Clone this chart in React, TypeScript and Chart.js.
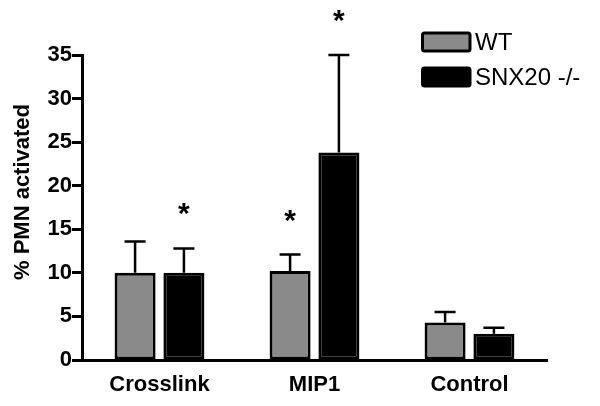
import React, { useEffect, useRef } from "react";
import { Chart, registerables } from "chart.js";

Chart.register(...registerables);

const categories = ["Crosslink", "MIP1", "Control"];
const seriesNames = ["WT", "SNX20 -/-"];
const wtMeans = [10.0, 10.2, 4.3];
const wtErrors = [3.6, 1.9, 1.2];
const snxMeans = [10.0, 23.8, 3.0];
const snxErrors = [2.8, 11.2, 0.7];
const wtSignificant = [false, true, false];
const snxSignificant = [true, true, false];
const yTicks = [0, 5, 10, 15, 20, 25, 30, 35];
const yTitle = "% PMN activated";

const FONT = "'Liberation Sans', Arial, Helvetica, sans-serif";

const errorBarsPlugin = {
  id: "errorBarsStars",
  afterDatasetsDraw(chart: any) {
    const ctx = chart.ctx;
    const yScale = chart.scales.y;
    const errs = [wtErrors, snxErrors];
    const sig = [wtSignificant, snxSignificant];
    ctx.save();
    chart.data.datasets.forEach((ds: any, di: number) => {
      const meta = chart.getDatasetMeta(di);
      meta.data.forEach((bar: any, i: number) => {
        const v = ds.data[i];
        const top = yScale.getPixelForValue(v + errs[di][i]);
        const base = yScale.getPixelForValue(v);
        ctx.strokeStyle = "#000";
        ctx.lineWidth = 2.5;
        ctx.beginPath();
        ctx.moveTo(bar.x, base);
        ctx.lineTo(bar.x, top);
        ctx.moveTo(bar.x - 10.5, top);
        ctx.lineTo(bar.x + 10.5, top);
        ctx.stroke();
        if (sig[di][i]) {
          ctx.fillStyle = "#000";
          ctx.font = `bold 30px ${FONT}`;
          ctx.textAlign = "center";
          ctx.textBaseline = "alphabetic";
          ctx.fillText("*", bar.x, top - 37 + 12);
        }
      });
    });
    ctx.restore();
  },
  afterDraw(chart: any) {
    const ctx = chart.ctx;
    ctx.save();
    ctx.translate(23, 192);
    ctx.rotate(-Math.PI / 2);
    ctx.fillStyle = "#000";
    ctx.font = `bold 22px ${FONT}`;
    ctx.textAlign = "center";
    ctx.textBaseline = "middle";
    ctx.fillText(yTitle, 0, 0);
    ctx.restore();

    ctx.save();
    const colors = ["#8a8a8a", "#000000"];
    chart.data.datasets.forEach((ds: any, i: number) => {
      const bx = 422.5;
      const by = 33 + i * 35;
      ctx.fillStyle = colors[i];
      ctx.strokeStyle = "#000";
      ctx.lineWidth = 3;
      ctx.beginPath();
      ctx.roundRect(bx, by, 47.5, 18, 2);
      ctx.fill();
      ctx.stroke();
      ctx.fillStyle = "#000";
      ctx.font = `24px ${FONT}`;
      ctx.textAlign = "left";
      ctx.textBaseline = "middle";
      ctx.fillText(ds.label, 475, by + 10);
    });
    ctx.restore();
  },
};

export default function App() {
  const ref = useRef<HTMLCanvasElement>(null);
  useEffect(() => {
    if (!ref.current) return;
    const chart = new Chart(ref.current, {
      type: "bar",
      data: {
        labels: categories,
        datasets: [
          {
            label: seriesNames[0],
            data: wtMeans,
            backgroundColor: "#8a8a8a",
            borderColor: "#000",
            borderWidth: 3,
            borderSkipped: false,
            categoryPercentage: 0.63,
            barPercentage: 0.84,
          },
          {
            label: seriesNames[1],
            data: snxMeans,
            backgroundColor: "#000",
            borderColor: "#000",
            borderWidth: 3,
            borderSkipped: false,
            categoryPercentage: 0.63,
            barPercentage: 0.84,
          },
        ],
      },
      options: {
        animation: false,
        responsive: false,
        layout: { padding: { top: 55, right: 53, left: 0, bottom: 0 } },
        plugins: { legend: { display: false }, tooltip: { enabled: false } },
        scales: {
          x: {
            grid: { display: false, drawTicks: false },
            border: { color: "#000", width: 3 },
            ticks: {
              color: "#000",
              padding: 12,
              font: { family: FONT, size: 22, weight: "bold" },
            },
            afterFit: (s: any) => {
              s.height = 46;
            },
          },
          y: {
            min: 0,
            max: 35,
            afterBuildTicks: (s: any) => {
              s.ticks = yTicks.map((v) => ({ value: v }));
            },
            grid: {
              drawOnChartArea: false,
              drawTicks: true,
              tickLength: 10,
              tickWidth: 3,
              color: "#000",
            },
            border: { color: "#000", width: 3 },
            ticks: {
              color: "#000",
              padding: 0,
              font: { family: FONT, size: 22, weight: "bold" },
            },
            afterFit: (s: any) => {
              s.width = 82;
            },
          },
        },
      },
      plugins: [errorBarsPlugin],
    });
    return () => chart.destroy();
  }, []);
  return (
    <div style={{ position: "fixed", left: 0, top: 0, width: 600, height: 406, background: "#fff" }}>
      <canvas ref={ref} width={600} height={406} style={{ display: "block" }} />
    </div>
  );
}
